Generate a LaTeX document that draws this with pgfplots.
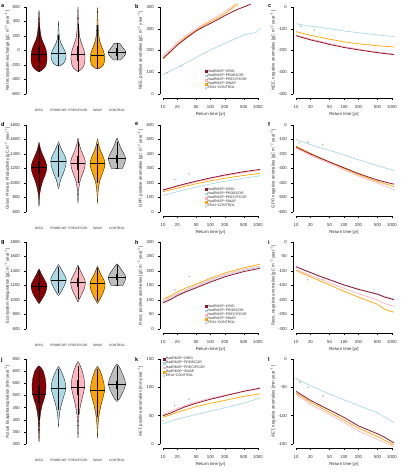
\documentclass[border=0pt]{standalone}
\usepackage{fontspec}
\setmainfont{Liberation Sans}
\usepackage{pgfplots}
\pgfplotsset{compat=1.18}
\usepackage{pgfplotstable}

\definecolor{origc}{RGB}{139,0,0}
\definecolor{origl}{RGB}{150,20,45}
\definecolor{probc}{RGB}{173,216,230}
\definecolor{precc}{RGB}{255,182,193}
\definecolor{swapc}{RGB}{255,165,0}
\definecolor{ctrlc}{RGB}{190,190,190}
\definecolor{eraic}{RGB}{165,165,165}
\definecolor{txt}{RGB}{45,45,45}

\newcommand\fTick{\fontsize{4.3}{5}\selectfont}
\newcommand\fLab{\fontsize{4.3}{5}\selectfont}
\newcommand\fCat{\fontsize{3.2}{4}\selectfont}
\newcommand\fLeg{\fontsize{3.5}{4.2}\selectfont}
\newcommand\fPan{\fontsize{5.5}{6}\selectfont\bfseries}
\newcommand\gC{[gC m\textsuperscript{−2} year\textsuperscript{−1}]}

% one violin: centre, profile table (y, half width), fill colour
% each half is closed along the centre line, where the width is zero at both ends
\newcommand\violin[3]{%
  \addplot[fill=#3, draw=black, line width=0.3pt, forget plot] table[x expr=#1+\thisrow{w}, y=y] {#2};
  \addplot[fill=#3, draw=black, line width=0.3pt, forget plot] table[x expr=#1-\thisrow{w}, y=y] {#2};
}
% inner statistics: centre, lower, q1, median, q3, upper, median line from x to x
\newcommand\vstats[8]{%
  \addplot[black, line width=0.3pt, forget plot] coordinates {(#1,#2) (#1,#6)};
  \addplot[black, line width=1.3pt, forget plot] coordinates {(#1,#3) (#1,#5)};
  \addplot[black, line width=0.35pt, forget plot] coordinates {(#7,#4) (#8,#4)};
}
\newcommand\legentries{%
  \addlegendimage{sq=origl}\addlegendentry{HadRM3P−ORIG}
  \addlegendimage{sq=probc}\addlegendentry{HadRM3P−PROBCOR}
  \addlegendimage{sq=precc}\addlegendentry{HadRM3P−PRECIPCOR}
  \addlegendimage{sq=swapc}\addlegendentry{HadRM3P−SWAP}
  \addlegendimage{xm=eraic}\addlegendentry{ERAI−CONTROL}
}

\pgfplotsset{
  basestyle/.style={
    scale only axis,
    axis lines=left, separate axis lines,
    axis line style={-, line width=0.35pt},
    tick align=outside, major tick length=1.6pt,
    tick style={black, line width=0.35pt},
    tick label style={font=\fTick, text=txt},
    yticklabel style={xshift=-1pt},
    /pgf/number format/assume math mode=true,
    /pgf/number format/1000 sep={},
    label style={font=\fLab, text=txt},
    ylabel style={anchor=center},
    clip=false,
  },
  viostyle/.style={basestyle, width=97.5pt, xmin=0.5, xmax=5.5,
    xtick={1,2,3,4,5}, xticklabels={ORIG,PROBCOR,PRECIPCOR,SWAP,CONTROL},
    x axis line style={draw=none}, xtick style={draw=none},
    xticklabel style={font=\fCat, yshift=-10pt},
    axis y line shift=3.25pt,
    ylabel style={at={(axis description cs:-0.225,0.5)}},
  },
  retstyle/.style={basestyle, xmin=10, xmax=1000,
    xtick={10,20,50,100,200,500,1000}, xticklabels={10,20,50,100,200,500,1000},
    xminorticks=false,
    axis x line shift=4.3pt, axis y line shift=3pt,
    xticklabel style={yshift=-1.8pt},
    xlabel={Return time [yr]},
    xlabel style={at={(axis description cs:0.5,0)}, anchor=center, yshift=-20pt},
    ylabel style={at={(axis description cs:-0.24,0.5)}},
  },
  lOrig/.style={origl, line width=0.8pt, forget plot},
  lProb/.style={probc, line width=0.7pt, forget plot},
  lPrec/.style={precc, line width=0.7pt, forget plot},
  lSwap/.style={swapc, line width=0.7pt, forget plot},
  lErai/.style={eraic, only marks, mark=x, mark size=0.9pt, line width=0.3pt, forget plot},
  sq/.style={legend image code/.code={\fill[#1] (0pt,-0.9pt) rectangle (1.8pt,0.9pt);}},
  xm/.style={legend image code/.code={\draw[#1, line width=0.3pt] (0pt,-0.8pt) -- (1.6pt,0.8pt) (0pt,0.8pt) -- (1.6pt,-0.8pt);}},
  legstyle/.style={legend cell align=left,
    legend style={draw=none, fill=none, font=\fLeg, text=txt, inner sep=0pt, row sep=-0.8pt,
      nodes={inner sep=0.5pt}, at={(axis description cs:#1)}, anchor=north west}},
}

% violin profiles: y value, half width (in category units)
\pgfplotstableread{
y w
-295 0
-280 0.10
-260 0.20
-230 0.30
-200 0.36
-150 0.40
-100 0.41
-50 0.40
0 0.37
50 0.31
100 0.23
150 0.15
200 0.10
250 0.07
300 0.05
350 0.035
400 0.025
450 0.015
500 0.008
550 0
}\vAa
\pgfplotstableread{
y w
-215 0
-205 0.12
-180 0.25
-150 0.33
-100 0.38
-50 0.38
0 0.32
50 0.22
100 0.13
150 0.07
200 0.04
250 0.025
300 0.015
350 0.008
400 0
}\vAb
\pgfplotstableread{
y w
-290 0
-270 0.12
-240 0.24
-200 0.31
-150 0.35
-100 0.36
-50 0.35
0 0.31
50 0.25
100 0.18
150 0.12
200 0.08
250 0.06
300 0.045
400 0.025
500 0.012
600 0
}\vAc
\pgfplotstableread{
y w
-255 0
-240 0.15
-200 0.30
-150 0.36
-100 0.37
-50 0.35
0 0.30
50 0.22
100 0.15
150 0.10
200 0.07
250 0.05
300 0.04
400 0.022
500 0.010
590 0
}\vAd
\pgfplotstableread{
y w
-132 0
-130 0.18
-110 0.26
-80 0.36
-50 0.44
-25 0.46
0 0.42
30 0.32
60 0.24
90 0.18
100 0.10
102 0
}\vAe

\pgfplotstableread{
y w
680 0
750 0.01
800 0.02
850 0.04
900 0.07
950 0.11
1000 0.16
1050 0.22
1100 0.30
1150 0.36
1200 0.40
1250 0.39
1300 0.33
1350 0.25
1400 0.17
1450 0.10
1500 0.05
1560 0
}\vDa
\pgfplotstableread{
y w
920 0
960 0.04
1000 0.07
1050 0.12
1100 0.20
1150 0.27
1200 0.33
1250 0.38
1300 0.40
1350 0.36
1400 0.28
1450 0.18
1500 0.10
1540 0.04
1570 0
}\vDb
\pgfplotstableread{
y w
720 0
800 0.01
900 0.03
1000 0.08
1050 0.13
1100 0.20
1150 0.27
1200 0.33
1250 0.37
1300 0.37
1350 0.32
1400 0.24
1450 0.16
1500 0.10
1550 0.05
1620 0
}\vDc
\pgfplotstableread{
y w
720 0
800 0.012
900 0.035
1000 0.09
1050 0.14
1100 0.21
1150 0.28
1200 0.34
1250 0.38
1300 0.37
1350 0.31
1400 0.23
1450 0.15
1500 0.09
1550 0.045
1610 0
}\vDd
\pgfplotstableread{
y w
1198 0
1200 0.28
1250 0.36
1300 0.42
1340 0.44
1380 0.40
1420 0.32
1460 0.24
1500 0.17
1550 0.10
1590 0.05
1620 0
}\vDe

\pgfplotstableread{
y w
950 0
980 0.08
1020 0.17
1060 0.26
1100 0.33
1150 0.39
1190 0.41
1230 0.38
1270 0.30
1310 0.22
1350 0.14
1390 0.07
1430 0
}\vGa
\pgfplotstableread{
y w
1060 0
1090 0.08
1130 0.17
1170 0.25
1210 0.32
1250 0.38
1280 0.40
1320 0.36
1360 0.28
1400 0.19
1440 0.11
1470 0.05
1490 0
}\vGb
\pgfplotstableread{
y w
970 0
1000 0.05
1040 0.12
1080 0.19
1120 0.26
1160 0.32
1200 0.36
1240 0.38
1280 0.35
1320 0.28
1360 0.20
1400 0.13
1440 0.07
1480 0
}\vGc
\pgfplotstableread{
y w
950 0
980 0.06
1020 0.14
1060 0.22
1100 0.29
1150 0.35
1190 0.38
1230 0.39
1270 0.34
1310 0.26
1350 0.18
1390 0.11
1430 0.06
1470 0
}\vGd
\pgfplotstableread{
y w
1198 0
1200 0.30
1240 0.37
1280 0.43
1310 0.45
1350 0.40
1390 0.30
1420 0.22
1450 0.15
1480 0.07
1500 0
}\vGe

\pgfplotstableread{
y w
310 0
350 0.015
400 0.04
430 0.08
460 0.16
490 0.28
510 0.34
540 0.36
570 0.32
600 0.22
615 0.10
622 0
}\vJa
\pgfplotstableread{
y w
370 0
400 0.02
430 0.06
460 0.14
490 0.25
520 0.36
535 0.38
560 0.33
585 0.22
605 0.11
620 0
}\vJb
\pgfplotstableread{
y w
325 0
370 0.015
420 0.05
460 0.13
490 0.22
520 0.31
540 0.35
570 0.31
600 0.22
625 0.10
640 0
}\vJc
\pgfplotstableread{
y w
325 0
370 0.02
400 0.05
430 0.10
460 0.18
490 0.28
520 0.37
550 0.33
580 0.23
605 0.12
620 0
}\vJd
\pgfplotstableread{
y w
475 0
485 0.12
500 0.22
520 0.34
545 0.45
565 0.40
585 0.30
605 0.20
620 0.10
630 0
}\vJe

\begin{document}
\begin{tikzpicture}
\useasboundingbox (0,0) rectangle (403pt,-472pt);

%% ---------------- row 1: NEE ----------------
\begin{axis}[viostyle, at={(29.25pt,-94pt)}, anchor=south west, height=87pt,
  ymin=-600, ymax=600, ytick={-600,-400,...,600},
  ylabel={Net ecosystem exchange \gC}]
\violin{1}{\vAa}{origc}
\violin{2}{\vAb}{probc}
\violin{3}{\vAc}{precc}
\violin{4}{\vAd}{swapc}
\violin{5}{\vAe}{ctrlc}
\vstats{1}{-290}{-140}{-45}{50}{330}{0.60}{1.40}
\vstats{2}{-210}{-110}{-40}{20}{210}{1.62}{2.38}
\vstats{3}{-290}{-150}{-50}{60}{370}{2.65}{3.35}
\vstats{4}{-255}{-160}{-60}{40}{350}{3.645}{4.355}
\vstats{5}{-130}{-75}{-25}{30}{100}{4.54}{5.46}
\end{axis}

\begin{axis}[xmode=log, retstyle, width=95pt, at={(163pt,-94pt)}, anchor=south west, height=87pt,
  ymin=0, ymax=400, ytick={0,100,...,400},
  ylabel={NEE, positive anomalies \gC}, legstyle={0.44,0.29}]
\addplot[lProb] coordinates {(10,88) (15,108) (20,122) (30,142) (50,168) (70,185) (100,203) (150,220) (200,233) (300,250) (400,262) (500,272) (700,278) (900,282) (1000,292) (1150,302)};
\addplot[lPrec] coordinates {(10,175) (15,210) (20,238) (30,268) (50,300) (70,320) (100,340) (150,362) (200,380) (300,405) (340,414)};
\addplot[lSwap] coordinates {(10,160) (15,198) (20,228) (30,260) (50,293) (70,313) (100,333) (150,353) (200,370) (300,398) (380,414)};
\addplot[lOrig] coordinates {(10,165) (12,180) (15,200) (20,225) (30,255) (50,290) (70,308) (100,325) (150,345) (200,360) (300,380) (400,392) (500,400) (700,413)};
\addplot[lErai] coordinates {(12.3,98) (24.3,128)};
\legentries
\end{axis}

\begin{axis}[xmode=log, retstyle, width=96pt, at={(296pt,-94pt)}, anchor=south west, height=87pt,
  ymin=-400, ymax=0, ytick={-400,-300,...,0},
  ylabel={NEE, negative anomalies \gC}]
\addplot[lProb] coordinates {(10,-77) (20,-88) (50,-100) (100,-110) (200,-118) (500,-128) (1000,-135) (1100,-136)};
\addplot[lPrec] coordinates {(10,-128) (20,-147) (50,-168) (100,-182) (200,-194) (500,-207) (1000,-215) (1100,-217)};
\addplot[lSwap] coordinates {(10,-113) (20,-130) (50,-148) (100,-160) (200,-169) (500,-178) (1000,-183) (1100,-184)};
\addplot[lOrig] coordinates {(10,-132) (15,-143) (20,-151) (30,-160) (50,-172) (100,-186) (200,-197) (500,-210) (1000,-218) (1100,-220)};
\addplot[lErai] coordinates {(12.7,-89) (24,-105)};
\end{axis}

%% ---------------- row 2: GPP ----------------
\begin{axis}[viostyle, at={(29.25pt,-212pt)}, anchor=south west, height=87pt,
  ymin=600, ymax=1800, ytick={600,800,...,1800},
  ylabel={Gross Primary Productivity \gC}]
\violin{1}{\vDa}{origc}
\violin{2}{\vDb}{probc}
\violin{3}{\vDc}{precc}
\violin{4}{\vDd}{swapc}
\violin{5}{\vDe}{ctrlc}
\vstats{1}{900}{1130}{1220}{1300}{1500}{0.60}{1.40}
\vstats{2}{1080}{1240}{1300}{1360}{1530}{1.60}{2.40}
\vstats{3}{1000}{1180}{1280}{1370}{1560}{2.63}{3.37}
\vstats{4}{1000}{1190}{1275}{1360}{1540}{3.625}{4.375}
\vstats{5}{1200}{1280}{1340}{1390}{1560}{4.56}{5.44}
\end{axis}

\begin{axis}[xmode=log, retstyle, width=95pt, at={(163pt,-212pt)}, anchor=south west, height=87pt,
  ymin=0, ymax=600, ytick={0,100,...,600},
  ylabel={GPP, positive anomalies \gC}, legstyle={0.44,0.29}]
\addplot[lProb] coordinates {(10,115) (20,140) (50,172) (100,193) (200,212) (500,233) (1000,247) (1100,250)};
\addplot[lPrec] coordinates {(10,148) (20,176) (50,208) (100,230) (200,250) (500,272) (1000,286) (1100,288)};
\addplot[lSwap] coordinates {(10,140) (20,165) (50,195) (100,215) (200,233) (500,252) (1000,265) (1100,267)};
\addplot[lOrig] coordinates {(10,152) (15,168) (20,180) (30,195) (50,213) (100,235) (200,255) (500,278) (1000,292) (1100,295)};
\addplot[lErai] coordinates {(10.3,145) (17.6,224) (35,263)};
\legentries
\end{axis}

\begin{axis}[xmode=log, retstyle, width=96pt, at={(296pt,-212pt)}, anchor=south west, height=87pt,
  ymin=-600, ymax=0, ytick={-600,-500,...,0},
  ylabel={GPP, negative anomalies \gC}]
\addplot[lProb] coordinates {(10,-100) (15,-120) (20,-135) (30,-155) (50,-175) (100,-207) (200,-240) (500,-280) (1000,-310) (1100,-315)};
\addplot[lPrec] coordinates {(10,-160) (20,-210) (50,-265) (100,-310) (200,-352) (500,-400) (1000,-440) (1100,-445)};
\addplot[lSwap] coordinates {(10,-145) (20,-195) (50,-255) (100,-300) (200,-342) (500,-390) (1000,-420) (1100,-425)};
\addplot[lOrig] coordinates {(10,-152) (15,-180) (20,-200) (30,-225) (50,-255) (100,-295) (200,-335) (500,-380) (1000,-405) (1100,-408)};
\addplot[lErai] coordinates {(11.7,-122) (18,-118) (36,-134)};
\end{axis}

%% ---------------- row 3: Reco ----------------
\begin{axis}[viostyle, at={(29.25pt,-329pt)}, anchor=south west, height=87pt,
  ymin=600, ymax=1800, ytick={600,800,...,1800},
  ylabel={Ecosystem Respiration \gC}]
\violin{1}{\vGa}{origc}
\violin{2}{\vGb}{probc}
\violin{3}{\vGc}{precc}
\violin{4}{\vGd}{swapc}
\violin{5}{\vGe}{ctrlc}
\vstats{1}{1000}{1130}{1190}{1250}{1400}{0.59}{1.41}
\vstats{2}{1100}{1220}{1280}{1330}{1460}{1.60}{2.40}
\vstats{3}{1010}{1180}{1240}{1300}{1450}{2.62}{3.38}
\vstats{4}{990}{1170}{1230}{1290}{1440}{3.61}{4.39}
\vstats{5}{1200}{1270}{1320}{1360}{1480}{4.56}{5.44}
\end{axis}

\begin{axis}[xmode=log, retstyle, width=95pt, at={(163pt,-329pt)}, anchor=south west, height=87pt,
  ymin=0, ymax=300, ytick={0,50,...,300},
  ylabel={Reco, positive anomalies \gC}, legstyle={0.44,0.29}]
\addplot[lProb] coordinates {(10,93) (20,118) (50,146) (100,166) (200,184) (500,202) (1000,212) (1100,214)};
\addplot[lPrec] coordinates {(10,96) (20,121) (50,150) (100,170) (200,188) (500,206) (1000,216) (1100,218)};
\addplot[lSwap] coordinates {(10,102) (15,116) (20,128) (30,141) (50,155) (100,175) (200,193) (500,211) (1000,222) (1100,224)};
\addplot[lOrig] coordinates {(10,90) (15,103) (20,115) (30,128) (50,142) (100,162) (200,180) (500,198) (1000,208) (1100,210)};
\addplot[lErai] coordinates {(17.6,135) (36,181)};
\legentries
\end{axis}

\begin{axis}[xmode=log, retstyle, width=96pt, at={(296pt,-329pt)}, anchor=south west, height=87pt,
  ymin=-300, ymax=0, ytick={-300,-250,...,0},
  ylabel={Reco, negative anomalies \gC}]
\addplot[lProb] coordinates {(10,-87) (20,-106) (50,-131) (100,-149) (200,-165) (500,-178) (700,-186) (1000,-195) (1100,-197)};
\addplot[lPrec] coordinates {(10,-95) (20,-115) (50,-140) (100,-160) (200,-178) (500,-200) (700,-212) (1000,-220) (1100,-222)};
\addplot[lSwap] coordinates {(10,-98) (20,-120) (50,-148) (100,-170) (200,-190) (500,-215) (700,-232) (1000,-240) (1100,-242)};
\addplot[lOrig] coordinates {(10,-85) (15,-97) (20,-105) (30,-117) (50,-130) (100,-148) (200,-163) (500,-180) (700,-190) (1000,-197) (1100,-199)};
\addplot[lErai] coordinates {(17.6,-130) (36,-130)};
\end{axis}

%% ---------------- row 4: AET ----------------
\begin{axis}[viostyle, at={(29.25pt,-444pt)}, anchor=south west, height=85pt,
  ymin=300, ymax=650, ytick={300,350,...,650},
  ylabel={Actual Evapotranspiration [mm year\textsuperscript{−1}]}]
\violin{1}{\vJa}{origc}
\violin{2}{\vJb}{probc}
\violin{3}{\vJc}{precc}
\violin{4}{\vJd}{swapc}
\violin{5}{\vJe}{ctrlc}
\vstats{1}{400}{470}{505}{540}{610}{0.66}{1.34}
\vstats{2}{440}{505}{530}{555}{610}{1.63}{2.37}
\vstats{3}{420}{500}{535}{565}{620}{2.65}{3.35}
\vstats{4}{410}{480}{520}{550}{610}{3.63}{4.37}
\vstats{5}{480}{525}{545}{560}{620}{4.55}{5.45}
\end{axis}

\begin{axis}[xmode=log, retstyle, width=95pt, at={(163pt,-444pt)}, anchor=south west, height=85pt,
  ymin=0, ymax=150, ytick={0,50,...,150},
  ylabel={AET, positive anomalies [mm year\textsuperscript{−1}]}, legstyle={0.0,1.03}]
\addplot[lProb] coordinates {(10,36) (20,44) (50,52) (100,58) (200,64) (500,72) (1000,80) (1100,81)};
\addplot[lPrec] coordinates {(10,52) (20,63) (50,74) (100,81) (200,86) (500,93) (1000,97) (1100,98)};
\addplot[lSwap] coordinates {(10,47) (20,56) (50,66) (100,72) (200,77) (500,84) (1000,88) (1100,89)};
\addplot[lOrig] coordinates {(10,50) (15,55) (20,60) (30,66) (50,72) (100,79) (200,85) (500,93) (1000,98) (1100,99)};
\addplot[lErai] coordinates {(10,41) (17.6,68) (35,79)};
\legentries
\end{axis}

\begin{axis}[xmode=log, retstyle, width=96pt, at={(296pt,-444pt)}, anchor=south west, height=85pt,
  ymin=-150, ymax=0, ytick={-150,-100,...,0},
  ylabel={AET, negative anomalies [mm year\textsuperscript{−1}]}]
\addplot[lProb] coordinates {(10,-35) (20,-47) (50,-62) (100,-72) (200,-82) (500,-95) (1000,-110) (1100,-112)};
\addplot[lPrec] coordinates {(10,-62) (20,-80) (50,-98) (100,-112) (200,-127) (500,-142) (1000,-153) (1100,-155)};
\addplot[lSwap] coordinates {(10,-60) (20,-76) (50,-94) (100,-108) (200,-122) (500,-137) (1000,-150) (1100,-152)};
\addplot[lOrig] coordinates {(10,-57) (20,-73) (50,-90) (100,-103) (200,-118) (500,-132) (700,-138) (1000,-146) (1100,-148)};
\addplot[lErai] coordinates {(10,-34) (12,-41) (18,-50) (37,-65)};
\end{axis}

%% panel letters
\node[font=\fPan, anchor=north west, inner sep=0pt] at (1pt,-4pt) {a};
\node[font=\fPan, anchor=north west, inner sep=0pt] at (135pt,-4pt) {b};
\node[font=\fPan, anchor=north west, inner sep=0pt] at (268pt,-4pt) {c};
\node[font=\fPan, anchor=north west, inner sep=0pt] at (1pt,-122pt) {d};
\node[font=\fPan, anchor=north west, inner sep=0pt] at (135pt,-122pt) {e};
\node[font=\fPan, anchor=north west, inner sep=0pt] at (268pt,-122pt) {f};
\node[font=\fPan, anchor=north west, inner sep=0pt] at (1pt,-240pt) {g};
\node[font=\fPan, anchor=north west, inner sep=0pt] at (135pt,-240pt) {h};
\node[font=\fPan, anchor=north west, inner sep=0pt] at (268pt,-240pt) {i};
\node[font=\fPan, anchor=north west, inner sep=0pt] at (1pt,-357pt) {j};
\node[font=\fPan, anchor=north west, inner sep=0pt] at (135pt,-357pt) {k};
\node[font=\fPan, anchor=north west, inner sep=0pt] at (268pt,-357pt) {l};
\end{tikzpicture}
\end{document}
